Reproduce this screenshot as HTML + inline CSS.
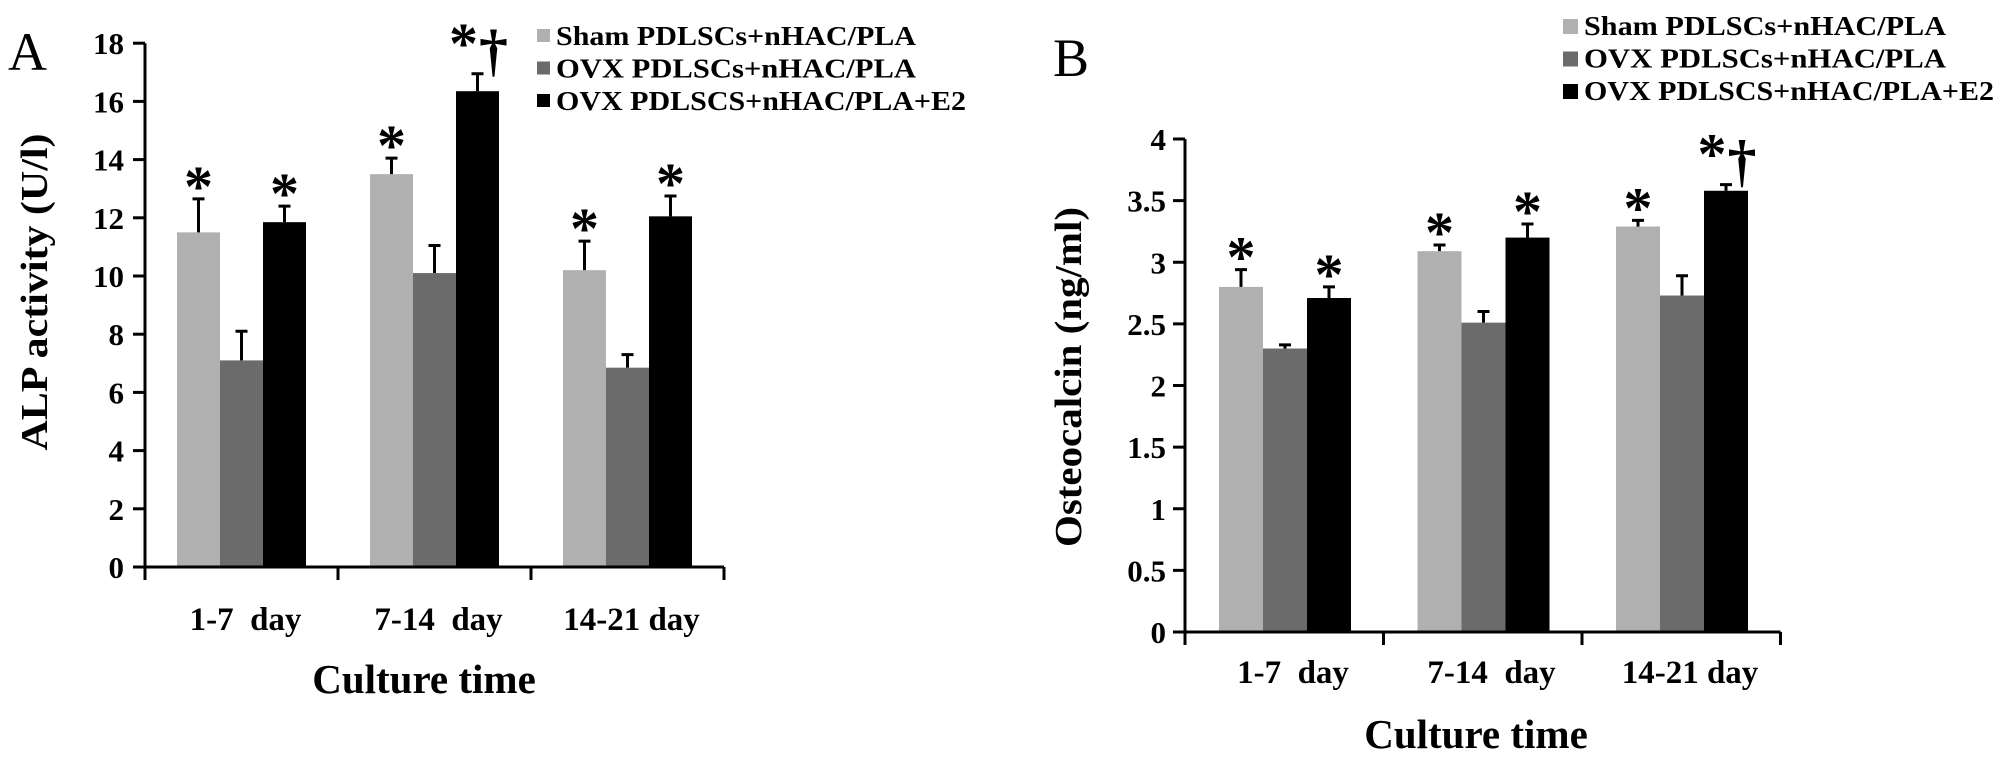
<!DOCTYPE html>
<html><head><meta charset="utf-8">
<style>
html,body{margin:0;padding:0;background:#fff;}
svg{display:block;}
text{font-family:"Liberation Serif","Times New Roman",serif;fill:#000;}
.b{font-weight:bold;}
</style></head>
<body>
<svg id="fig" width="2008" height="763" viewBox="0 0 2008 763" xmlns="http://www.w3.org/2000/svg">
  <rect x="0" y="0" width="2008" height="763" fill="#fff"/>
</svg>
<script>
// ---- shared data ----
const categories = ["1-7  day", "7-14  day", "14-21 day"];
const seriesNames = ["Sham PDLSCs+nHAC/PLA", "OVX PDLSCs+nHAC/PLA", "OVX PDLSCS+nHAC/PLA+E2"];
const seriesColors = ["#b0b0b0", "#6b6b6b", "#000000"];

// Panel A: ALP activity (U/l)
const alpSham = [11.5, 13.5, 10.2];
const alpOvx = [7.1, 10.1, 6.85];
const alpE2 = [11.85, 16.35, 12.05];
const alpShamErr = [1.15, 0.55, 1.0];
const alpOvxErr = [1.0, 0.95, 0.45];
const alpE2Err = [0.55, 0.6, 0.7];
const alpShamMark = ["*", "*", "*"];
const alpOvxMark = ["", "", ""];
const alpE2Mark = ["*", "*†", "*"];
const alpTicks = [0, 2, 4, 6, 8, 10, 12, 14, 16, 18];

// Panel B: Osteocalcin (ng/ml)
const ocSham = [2.8, 3.09, 3.29];
const ocOvx = [2.3, 2.51, 2.73];
const ocE2 = [2.71, 3.2, 3.58];
const ocShamErr = [0.14, 0.05, 0.05];
const ocOvxErr = [0.03, 0.09, 0.16];
const ocE2Err = [0.09, 0.11, 0.05];
const ocShamMark = ["*", "*", "*"];
const ocOvxMark = ["", "", ""];
const ocE2Mark = ["*", "*", "*†"];
const ocTicks = [0, 0.5, 1, 1.5, 2, 2.5, 3, 3.5, 4];

const NS = "http://www.w3.org/2000/svg";
const svg = document.getElementById("fig");
function mk(tag, attrs, parent, txt) {
  const e = document.createElementNS(NS, tag);
  for (const k in attrs) e.setAttribute(k, attrs[k]);
  if (txt !== undefined) e.textContent = txt;
  (parent || svg).appendChild(e);
  return e;
}

function panel(cfg) {
  const g = mk("g", {});
  
  
  const y = v => cfg.y0 - (v - 0) * cfg.unit;
  const xAxisEnd = cfg.axisX + cfg.groupStep * categories.length;

  const L = mk("text", {x: cfg.letterX, y: cfg.letterY, "font-size": 54}, g, cfg.letter);
  
  

  const series = [cfg.vals[0], cfg.vals[1], cfg.vals[2]];
  for (let gi = 0; gi < categories.length; gi++) {
    for (let s = 0; s < 3; s++) {
      const v = series[s][gi];
      const bx = cfg.axisX + cfg.barOffset + gi * cfg.groupStep + s * cfg.barW;
      const r = mk("rect", {x: bx, y: y(v), width: cfg.barW, height: cfg.y0 - y(v), fill: seriesColors[s]}, g);
      
      
      const cx = bx + cfg.barW / 2;
      const top = y(v + cfg.errs[s][gi]);
      const eb = mk("path", {d: `M${cx} ${y(v)}V${top}M${cx - 6} ${top}H${cx + 6}`, stroke: "#000", "stroke-width": 3, fill: "none"}, g);
      
      
      const m = cfg.marks[s][gi];
      if (m) {
        if (m.length > 1) {
          const st = mk("text", {x: cx - 14, y: top - 40 + 29, "font-size": 58, "text-anchor": "middle", class: "b"}, g, "*");
          
          
          const dg = mk("text", {x: cx + 16, y: top - 4, "font-size": 58, "text-anchor": "middle", class: "b"}, g, "†");
          
          
        } else {
          const st = mk("text", {x: cx, y: top - 22 + 29, "font-size": 58, "text-anchor": "middle", class: "b"}, g, "*");
          
          
        }
      }
    }
  }

  const ya = mk("path", {d: `M${cfg.axisX} ${y(cfg.ticks[cfg.ticks.length - 1])}V${cfg.y0}`, stroke: "#000", "stroke-width": 3}, g);
  
  
  const xa = mk("path", {d: `M${cfg.axisX - 12} ${cfg.y0}H${xAxisEnd}`, stroke: "#000", "stroke-width": 3}, g);
  
  
  for (let i = 0; i <= categories.length; i++) {
    const tx = cfg.axisX + i * cfg.groupStep;
    const t = mk("path", {d: `M${tx} ${cfg.y0}V${cfg.y0 + 13}`, stroke: "#000", "stroke-width": 3}, g);
    
    
  }
  cfg.ticks.forEach(v => {
    const t = mk("path", {d: `M${cfg.axisX - 12} ${y(v)}H${cfg.axisX}`, stroke: "#000", "stroke-width": 3}, g);
    
    
    const lb = mk("text", {x: cfg.tickLabelX, y: y(v) + 11, "font-size": 31, "text-anchor": "end", class: "b"}, g, String(v));
    
    
  });
  categories.forEach((c, gi) => {
    const cx = cfg.axisX + cfg.barOffset + gi * cfg.groupStep + 1.5 * cfg.barW + cfg.labelShift;
    const t = mk("text", {x: cx, y: cfg.catY, "font-size": 33, "text-anchor": "middle", class: "b", "xml:space": "preserve", style: "white-space:pre"}, g, c);
    
    
  });
  const xt = mk("text", {x: cfg.xTitleX, y: cfg.xTitleY, "font-size": 41, "text-anchor": "middle", class: "b"}, g, "Culture time");
  
  
  const yt = mk("text", {x: 0, y: 0, "font-size": 38, "text-anchor": "middle", class: "b", textLength: cfg.yTitleLen, lengthAdjust: "spacingAndGlyphs",
    transform: `translate(${cfg.yTitleX},${cfg.yTitleCY}) rotate(-90)`}, g, cfg.yTitle);
  
  

  const lg = mk("g", {}, g);
  
  
  seriesNames.forEach((n, s) => {
    const by = cfg.legY + s * cfg.legStep;
    const e = mk("g", {}, lg);
    
    
    mk("rect", {x: cfg.legX, y: by - 16, width: cfg.legSq, height: cfg.legSq, fill: seriesColors[s]}, e);
    mk("text", {x: cfg.legX + cfg.legSq + 6, y: by, "font-size": 27, class: "b", textLength: cfg.legLens[s], lengthAdjust: "spacingAndGlyphs"}, e, n);
  });
}

panel({
  name: "panel-a-alp-chart", letter: "A", letterX: 8, letterY: 70,
  vals: [alpSham, alpOvx, alpE2], errs: [alpShamErr, alpOvxErr, alpE2Err], marks: [alpShamMark, alpOvxMark, alpE2Mark],
  ticks: alpTicks, y0: 567, unit: 29.1, axisX: 145, groupStep: 193, barOffset: 32, barW: 43,
  tickLabelX: 124, catY: 630, labelShift: 4, xTitleX: 424, xTitleY: 693,
  yTitle: "ALP activity (U/l)", yTitleX: 47, yTitleCY: 292, yTitleLen: 317,
  legX: 537, legY: 45, legStep: 32.5, legSq: 13, legLens: [360, 360, 410]
});
panel({
  name: "panel-b-osteocalcin-chart", letter: "B", letterX: 1053, letterY: 76,
  vals: [ocSham, ocOvx, ocE2], errs: [ocShamErr, ocOvxErr, ocE2Err], marks: [ocShamMark, ocOvxMark, ocE2Mark],
  ticks: ocTicks, y0: 632, unit: 123.25, axisX: 1185, groupStep: 198.5, barOffset: 34, barW: 44,
  tickLabelX: 1166, catY: 683, labelShift: 8, xTitleX: 1476, xTitleY: 748,
  yTitle: "Osteocalcin (ng/ml)", yTitleX: 1081, yTitleCY: 377, yTitleLen: 340,
  legX: 1563, legY: 35, legStep: 32.5, legSq: 15, legLens: [362, 362, 410]
});
</script>
</body></html>
